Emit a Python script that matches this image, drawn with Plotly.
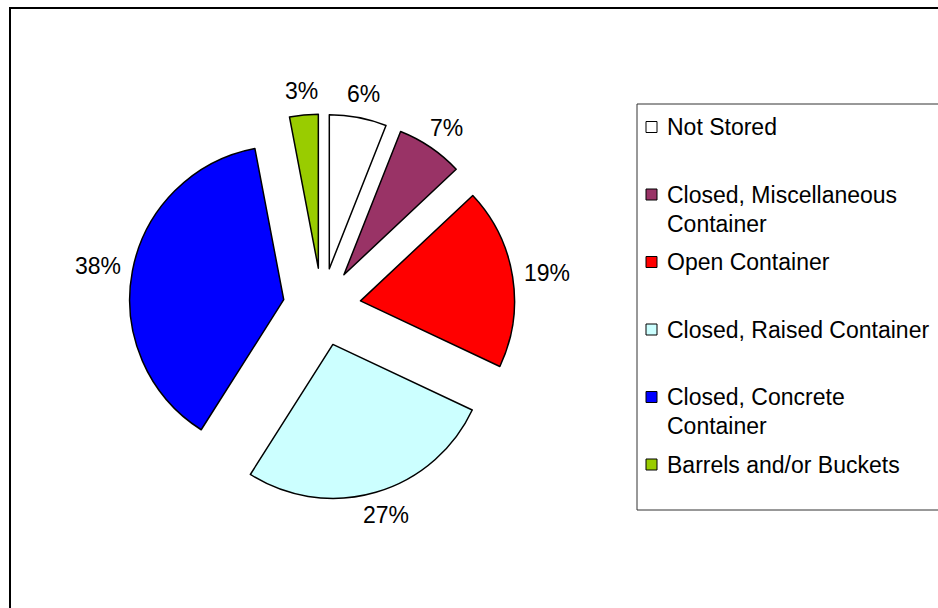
import math
import textwrap
import plotly.graph_objects as go

# Storage method shares (percent of households)
categories = [
    "Not Stored",
    "Closed, Miscellaneous Container",
    "Open Container",
    "Closed, Raised Container",
    "Closed, Concrete Container",
    "Barrels and/or Buckets",
]
shares = [6, 7, 19, 27, 38, 3]
colors = ["#FFFFFF", "#993366", "#FF0000", "#CCFFFF", "#0000FF", "#99CC00"]

W, H = 938, 608
FONT = "Liberation Sans, Arial, sans-serif"
TEXT_SIZE = 23

# pie placement in pixels
CX, CY, HALF = 322, 307, 193
PULL = 0.253


def px(x):
    return x / W


def py(y):
    return 1 - y / H


fig = go.Figure(
    go.Pie(
        labels=categories,
        values=shares,
        sort=False,
        direction="clockwise",
        rotation=0,
        pull=[PULL] * len(shares),
        marker=dict(colors=colors, line=dict(color="#000000", width=1.5)),
        textinfo="none",
        showlegend=False,
        automargin=False,
        domain=dict(x=[px(CX - HALF), px(CX + HALF)], y=[py(CY + HALF), py(CY - HALF)]),
    )
)

shapes = [
    # chart area frame
    dict(type="rect", xref="paper", yref="paper",
         x0=px(10), y0=py(700), x1=px(1100), y1=py(8),
         line=dict(color="#000000", width=2), fillcolor="rgba(0,0,0,0)"),
    # legend frame
    dict(type="rect", xref="paper", yref="paper",
         x0=px(637), y0=py(510), x1=px(1100), y1=py(104),
         line=dict(color="#333333", width=1), fillcolor="rgba(0,0,0,0)"),
]
annotations = []

# percentage labels just outside each exploded slice
radius = HALF / (1 + PULL)
total = sum(shares)
start = 0.0
for val in shares:
    mid = 2 * math.pi * (start + val / 2) / total
    start += val
    dx, dy = math.sin(mid), -math.cos(mid)
    text = f"{round(100 * val / total)}%"
    w, h = 0.56 * TEXT_SIZE * (len(text) - 1) + 0.89 * TEXT_SIZE, TEXT_SIZE
    reach = radius * (1 + PULL) + 12
    lx = CX + dx * reach + dx * w / 2
    ly = CY + dy * reach + dy * h / 2
    annotations.append(dict(xref="paper", yref="paper", x=px(lx), y=py(ly),
                            xanchor="center", yanchor="middle", text=text,
                            showarrow=False,
                            font=dict(family=FONT, size=TEXT_SIZE, color="#000000")))

# legend entries: evenly spaced slots, wrapped text starts at the slot centre
slot_top, slot_step, line_step = 127, 67.5, 29
for i, (name, col) in enumerate(zip(categories, colors)):
    yc = slot_top + i * slot_step
    shapes.append(dict(type="rect", xref="paper", yref="paper",
                       x0=px(646), x1=px(657), y0=py(yc + 5.5), y1=py(yc - 5.5),
                       line=dict(color="#000000", width=1), fillcolor=col))
    for j, line in enumerate(textwrap.wrap(name, 24)):
        annotations.append(dict(xref="paper", yref="paper",
                                x=px(665), y=py(yc + j * line_step),
                                xanchor="left", yanchor="middle",
                                text=line, showarrow=False,
                                font=dict(family=FONT, size=TEXT_SIZE, color="#000000")))

fig.update_layout(
    width=W, height=H,
    margin=dict(l=0, r=0, t=0, b=0),
    paper_bgcolor="#FFFFFF",
    plot_bgcolor="#FFFFFF",
    shapes=shapes,
    annotations=annotations,
    font=dict(family=FONT),
)

fig.write_html("out.html")
